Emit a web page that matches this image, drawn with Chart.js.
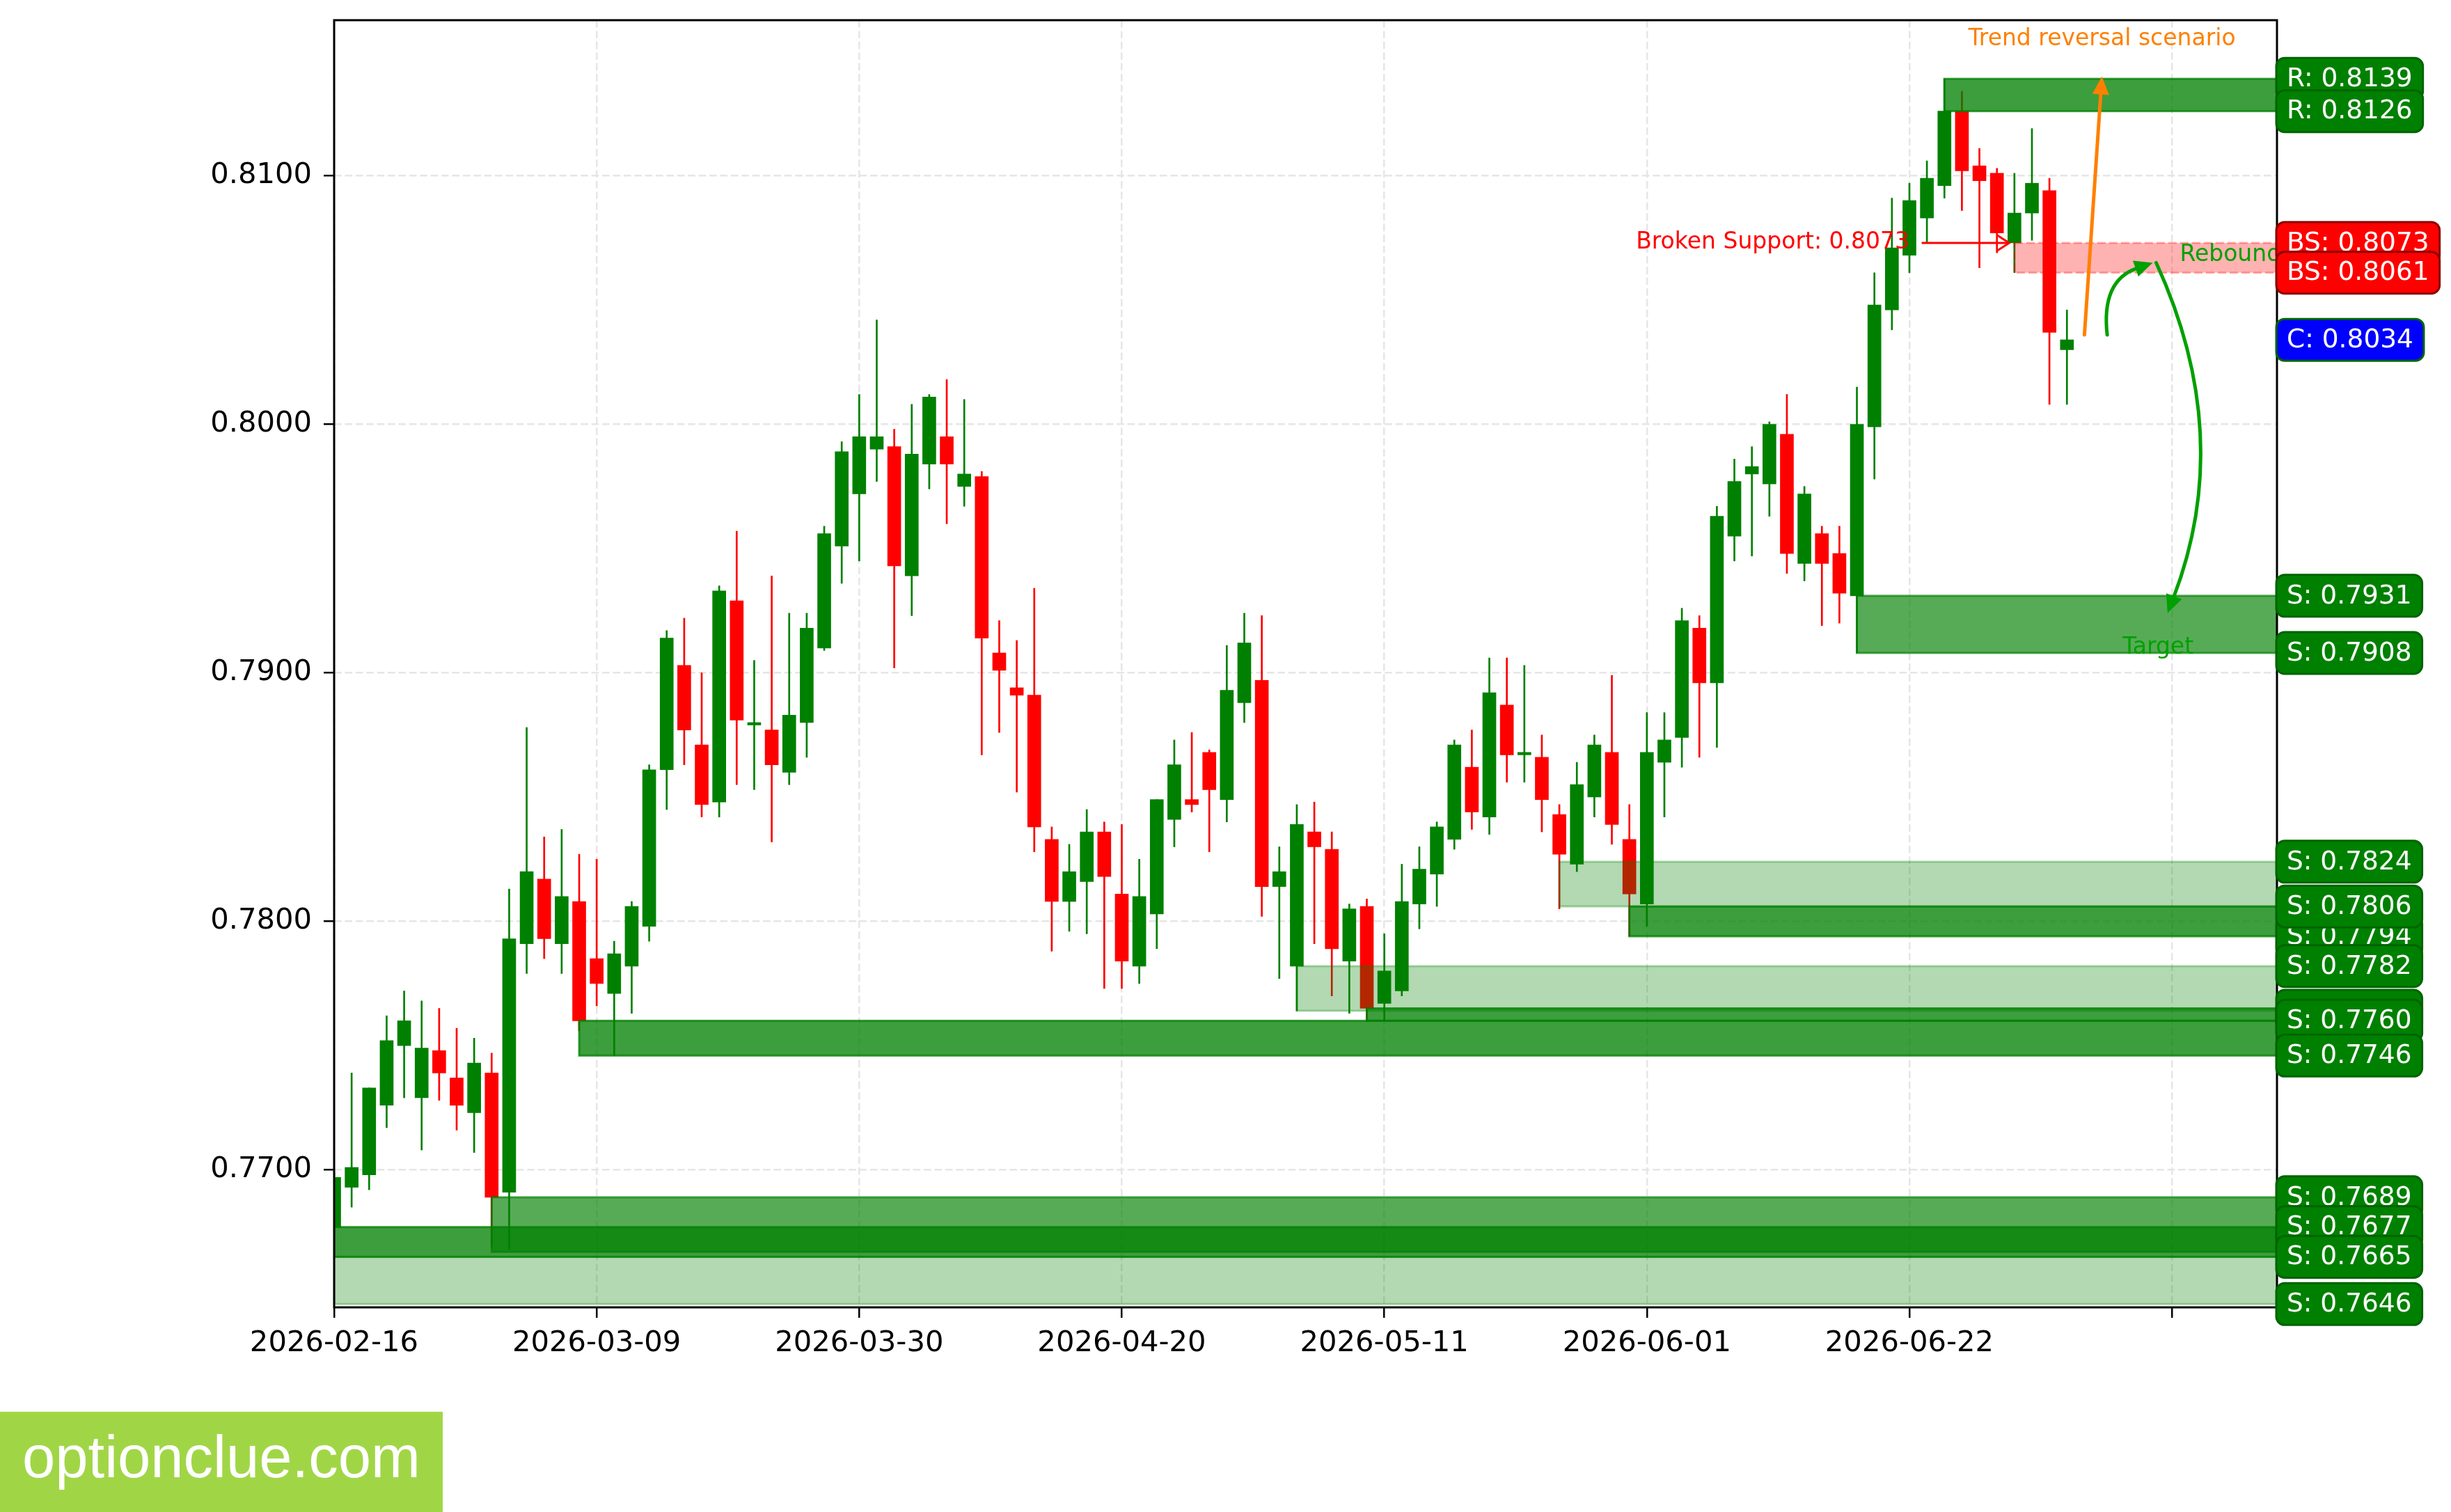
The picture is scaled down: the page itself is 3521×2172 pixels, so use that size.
<!DOCTYPE html>
<html>
<head>
<meta charset="utf-8">
<script src="https://cdn.jsdelivr.net/npm/chart.js@4.4.1/dist/chart.umd.min.js"></script>
<style>
html,body{margin:0;padding:0;background:#fff;}
#c{display:block;}
</style>
</head>
<body>
<canvas id="c" width="3521" height="2172"></canvas>
<script>
// ---------------- DATA ----------------
const dates = [
'2026-02-16','2026-02-17','2026-02-18','2026-02-19','2026-02-20',
'2026-02-23','2026-02-24','2026-02-25','2026-02-26','2026-02-27',
'2026-03-02','2026-03-03','2026-03-04','2026-03-05','2026-03-06',
'2026-03-09','2026-03-10','2026-03-11','2026-03-12','2026-03-13',
'2026-03-16','2026-03-17','2026-03-18','2026-03-19','2026-03-20',
'2026-03-23','2026-03-24','2026-03-25','2026-03-26','2026-03-27',
'2026-03-30','2026-03-31','2026-04-01','2026-04-02','2026-04-03',
'2026-04-06','2026-04-07','2026-04-08','2026-04-09','2026-04-10',
'2026-04-13','2026-04-14','2026-04-15','2026-04-16','2026-04-17',
'2026-04-20','2026-04-21','2026-04-22','2026-04-23','2026-04-24',
'2026-04-27','2026-04-28','2026-04-29','2026-04-30','2026-05-01',
'2026-05-04','2026-05-05','2026-05-06','2026-05-07','2026-05-08',
'2026-05-11','2026-05-12','2026-05-13','2026-05-14','2026-05-15',
'2026-05-18','2026-05-19','2026-05-20','2026-05-21','2026-05-22',
'2026-05-25','2026-05-26','2026-05-27','2026-05-28','2026-05-29',
'2026-06-01','2026-06-02','2026-06-03','2026-06-04','2026-06-05',
'2026-06-08','2026-06-09','2026-06-10','2026-06-11','2026-06-12',
'2026-06-15','2026-06-16','2026-06-17','2026-06-18','2026-06-19',
'2026-06-22','2026-06-23','2026-06-24','2026-06-25','2026-06-26',
'2026-06-29','2026-06-30','2026-07-01','2026-07-02','2026-07-03'];

const openP = [
0.7677,0.7693,0.7698,0.7726,0.7750,0.7729,0.7748,0.7737,0.7723,0.7739,
0.7691,0.7791,0.7817,0.7791,0.7808,0.7785,0.7771,0.7782,0.7798,0.7861,
0.7903,0.7871,0.7848,0.7929,0.7879,0.7877,0.7860,0.7880,0.7910,0.7951,
0.7972,0.7990,0.7991,0.7939,0.7984,0.7995,0.7975,0.7979,0.7908,0.7894,
0.7891,0.7833,0.7808,0.7816,0.7836,0.7811,0.7782,0.7803,0.7841,0.7849,
0.7868,0.7849,0.7888,0.7897,0.7814,0.7782,0.7836,0.7829,0.7784,0.7806,
0.7767,0.7772,0.7807,0.7819,0.7833,0.7862,0.7842,0.7887,0.7867,0.7866,
0.7843,0.7823,0.7850,0.7868,0.7833,0.7807,0.7864,0.7874,0.7918,0.7896,
0.7955,0.7980,0.7976,0.7996,0.7944,0.7956,0.7948,0.7931,0.7999,0.8046,
0.8068,0.8083,0.8096,0.8126,0.8104,0.8101,0.8073,0.8085,0.8094,0.8030];

const highP = [
0.7699,0.7739,0.7733,0.7762,0.7772,0.7768,0.7765,0.7757,0.7753,0.7747,
0.7813,0.7878,0.7834,0.7837,0.7827,0.7825,0.7792,0.7808,0.7863,0.7917,
0.7922,0.7900,0.7935,0.7957,0.7905,0.7939,0.7924,0.7924,0.7959,0.7993,
0.8012,0.8042,0.7998,0.8008,0.8012,0.8018,0.8010,0.7981,0.7921,0.7913,
0.7934,0.7838,0.7831,0.7845,0.7840,0.7839,0.7825,0.7849,0.7873,0.7876,
0.7869,0.7911,0.7924,0.7923,0.7830,0.7847,0.7848,0.7836,0.7807,0.7809,
0.7795,0.7823,0.7830,0.7840,0.7873,0.7877,0.7906,0.7906,0.7903,0.7875,
0.7847,0.7864,0.7875,0.7899,0.7847,0.7884,0.7884,0.7926,0.7923,0.7967,
0.7986,0.7991,0.8001,0.8012,0.7975,0.7959,0.7959,0.8015,0.8061,0.8091,
0.8097,0.8106,0.8139,0.8134,0.8111,0.8103,0.8101,0.8119,0.8099,0.8046];

const lowP = [
0.7665,0.7685,0.7692,0.7717,0.7729,0.7708,0.7728,0.7716,0.7707,0.7669,
0.7668,0.7779,0.7785,0.7779,0.7756,0.7766,0.7746,0.7763,0.7792,0.7845,
0.7863,0.7842,0.7842,0.7855,0.7853,0.7832,0.7855,0.7866,0.7909,0.7936,
0.7945,0.7977,0.7902,0.7923,0.7974,0.7960,0.7967,0.7867,0.7876,0.7852,
0.7828,0.7788,0.7796,0.7795,0.7773,0.7773,0.7775,0.7789,0.7830,0.7844,
0.7828,0.7840,0.7880,0.7802,0.7777,0.7764,0.7791,0.7770,0.7763,0.7760,
0.7760,0.7770,0.7797,0.7806,0.7829,0.7837,0.7835,0.7856,0.7856,0.7836,
0.7805,0.7820,0.7842,0.7831,0.7794,0.7798,0.7842,0.7862,0.7866,0.7870,
0.7945,0.7947,0.7963,0.7940,0.7937,0.7919,0.7920,0.7908,0.7978,0.8038,
0.8061,0.8073,0.8091,0.8086,0.8063,0.8069,0.8061,0.8074,0.8008,0.8008];

const closeP = [
0.7697,0.7701,0.7733,0.7752,0.7760,0.7749,0.7739,0.7726,0.7743,0.7689,
0.7793,0.7820,0.7793,0.7810,0.7760,0.7775,0.7787,0.7806,0.7861,0.7914,
0.7877,0.7847,0.7933,0.7881,0.7880,0.7863,0.7883,0.7918,0.7956,0.7989,
0.7995,0.7995,0.7943,0.7988,0.8011,0.7984,0.7980,0.7914,0.7901,0.7891,
0.7838,0.7808,0.7820,0.7836,0.7818,0.7784,0.7810,0.7849,0.7863,0.7847,
0.7853,0.7893,0.7912,0.7814,0.7820,0.7839,0.7830,0.7789,0.7805,0.7765,
0.7780,0.7808,0.7821,0.7838,0.7871,0.7844,0.7892,0.7867,0.7868,0.7849,
0.7827,0.7855,0.7871,0.7839,0.7811,0.7868,0.7873,0.7921,0.7896,0.7963,
0.7977,0.7983,0.8000,0.7948,0.7972,0.7944,0.7932,0.8000,0.8048,0.8071,
0.8090,0.8099,0.8126,0.8102,0.8098,0.8077,0.8085,0.8097,0.8037,0.8034];

const xTickIdx = [0, 15, 30, 45, 60, 75, 90, 105];
const xTickLabels = ['2026-02-16','2026-03-09','2026-03-30','2026-04-20','2026-05-11','2026-06-01','2026-06-22',''];
const yTicks = [0.7700, 0.7800, 0.7900, 0.8000, 0.8100];

// support / resistance zones (price range + first candle index)
const zoneLow   = [0.7646, 0.7665, 0.7667, 0.7746, 0.7764, 0.7760, 0.7806, 0.7794, 0.7908, 0.8126, 0.8061];
const zoneHigh  = [0.7665, 0.7677, 0.7689, 0.7760, 0.7782, 0.7765, 0.7824, 0.7806, 0.7931, 0.8139, 0.8073];
const zoneStart = [0, 0, 9, 14, 55, 59, 70, 74, 87, 92, 96];
const zoneKind  = ['light','dark','medium','dark','light','dark','light','dark','medium','dark','broken'];

// level labels on the right (in drawing order)
const levelText  = ['R: 0.8139','R: 0.8126','BS: 0.8073','BS: 0.8061','C: 0.8034','S: 0.7931','S: 0.7908',
                    'S: 0.7794','S: 0.7824','S: 0.7806','S: 0.7782','S: 0.7764','S: 0.7760','S: 0.7746',
                    'S: 0.7689','S: 0.7677','S: 0.7665','S: 0.7646'];
const levelPrice = [0.8139,0.8126,0.8073,0.8061,0.8034,0.7931,0.7908,
                    0.7794,0.7824,0.7806,0.7782,0.7764,0.7760,0.7746,
                    0.7689,0.7677,0.7665,0.7646];
const levelKind  = ['R','R','BS','BS','C','S','S','S','S','S','S','S','S','S','S','S','S','S'];

// ---------------- STYLES ----------------
const UP = '#008000', DN = '#ff0000';
const ORANGE = '#ff8000', LGREEN = '#00a000';
const zoneStyle = {
  light:  {fill:'rgba(0,128,0,0.30)', edge:'rgba(0,128,0,0.30)'},
  medium: {fill:'rgba(0,128,0,0.66)', edge:'rgba(0,128,0,0.66)'},
  dark:   {fill:'rgba(0,128,0,0.76)', edge:'rgba(0,128,0,0.76)'},
  broken: {fill:'rgba(255,0,0,0.30)', edge:'rgba(255,0,0,0.30)', dash:[12,5]}
};
const levelStyle = {
  R:  {fill:'#008000', edge:'#006400'},
  S:  {fill:'#008000', edge:'#006400'},
  BS: {fill:'#ff0000', edge:'#8b0000'},
  C:  {fill:'#0000ff', edge:'#006400'}
};
const annot = {
  texts: [
    {t:'Trend reversal scenario', x:101.0, y:0.8155, align:'center', color:ORANGE},
    {t:'Broken Support: 0.8073', x:90.0, y:0.8073, align:'right', color:'#ff0000'},
    {t:'Rebound', x:105.45, y:0.8068, align:'left', color:LGREEN},
    {t:'Target', x:104.2, y:0.7910, align:'center', color:LGREEN}
  ],
  arrows: [
    {x1:100.0, y1:0.8036, x2:101.0, y2:0.8140, rad:0, color:ORANGE, filled:true},
    {x1:101.3, y1:0.8036, x2:103.9, y2:0.8065, rad:-0.4, color:LGREEN, filled:true},
    {x1:104.1, y1:0.8065, x2:104.75, y2:0.7924, rad:-0.21, color:LGREEN, filled:true},
    {x1:90.7, y1:0.8073, x2:95.7, y2:0.8073, rad:0, color:'#ff0000', filled:false}
  ]
};

function drawArrow(ctx, p1, p2, rad, color, filled) {
  const dx = p2.x - p1.x, dyUp = -(p2.y - p1.y);
  const mx = (p1.x + p2.x) / 2, my = (p1.y + p2.y) / 2;
  const cx = mx + rad * dyUp, cy = my + rad * dx;
  let tx = p2.x - cx, ty = p2.y - cy;
  const L = Math.hypot(tx, ty); tx /= L; ty /= L;
  ctx.save();
  ctx.strokeStyle = color; ctx.fillStyle = color;
  if (filled) {
    const hl = 26, hw = 12;
    const bx = p2.x - tx * hl, by = p2.y - ty * hl;
    ctx.lineWidth = 5; ctx.lineCap = 'round';
    ctx.beginPath(); ctx.moveTo(p1.x, p1.y); ctx.quadraticCurveTo(cx, cy, bx + tx*2, by + ty*2); ctx.stroke();
    ctx.beginPath(); ctx.moveTo(p2.x, p2.y);
    ctx.lineTo(bx - ty * hw, by + tx * hw); ctx.lineTo(bx + ty * hw, by - tx * hw);
    ctx.closePath(); ctx.fill();
  } else {
    const hl = 17, hw = 11;
    const bx = p2.x - tx * hl, by = p2.y - ty * hl;
    ctx.lineWidth = 3; ctx.lineCap = 'butt';
    ctx.beginPath(); ctx.moveTo(p1.x, p1.y); ctx.quadraticCurveTo(cx, cy, p2.x, p2.y); ctx.stroke();
    ctx.beginPath(); ctx.moveTo(bx - ty * hw, by + tx * hw); ctx.lineTo(p2.x, p2.y); ctx.lineTo(bx + ty * hw, by - tx * hw); ctx.stroke();
  }
  ctx.restore();
}

function roundRect(ctx, x, y, w, h, r) {
  ctx.beginPath();
  ctx.moveTo(x + r, y); ctx.lineTo(x + w - r, y); ctx.arcTo(x + w, y, x + w, y + r, r);
  ctx.lineTo(x + w, y + h - r); ctx.arcTo(x + w, y + h, x + w - r, y + h, r);
  ctx.lineTo(x + r, y + h); ctx.arcTo(x, y + h, x, y + h - r, r);
  ctx.lineTo(x, y + r); ctx.arcTo(x, y, x + r, y, r); ctx.closePath();
}

const overlay = {
  id: 'overlay',
  afterDatasetsDraw(chart) {
    const ctx = chart.ctx, a = chart.chartArea, xs = chart.scales.x, ys = chart.scales.y;
    ctx.save();
    ctx.beginPath(); ctx.rect(a.left, a.top, a.right - a.left, a.bottom - a.top); ctx.clip();
    // zones
    for (let k = 0; k < zoneLow.length; k++) {
      const st = zoneStyle[zoneKind[k]];
      const x0 = xs.getPixelForValue(zoneStart[k]), x1 = xs.getPixelForValue(xs.max);
      const y0 = ys.getPixelForValue(zoneHigh[k]), y1 = ys.getPixelForValue(zoneLow[k]);
      ctx.fillStyle = st.fill; ctx.fillRect(x0, y0, x1 - x0, y1 - y0);
      ctx.strokeStyle = st.edge; ctx.lineWidth = 3; ctx.setLineDash(st.dash || []);
      ctx.strokeRect(x0, y0, x1 - x0, y1 - y0); ctx.setLineDash([]);
    }
    // annotation arrows
    for (const ar of annot.arrows) {
      drawArrow(ctx, {x: xs.getPixelForValue(ar.x1), y: ys.getPixelForValue(ar.y1)},
                     {x: xs.getPixelForValue(ar.x2), y: ys.getPixelForValue(ar.y2)}, ar.rad, ar.color, ar.filled);
    }
    // annotation texts
    ctx.font = '33px "DejaVu Sans"'; ctx.textBaseline = 'middle';
    for (const t of annot.texts) {
      ctx.fillStyle = t.color; ctx.textAlign = t.align;
      ctx.fillText(t.t, xs.getPixelForValue(t.x), ys.getPixelForValue(t.y));
    }
    ctx.restore();
    // spines
    ctx.save(); ctx.strokeStyle = '#000'; ctx.lineWidth = 3;
    ctx.strokeRect(a.left, a.top, a.right - a.left, a.bottom - a.top); ctx.restore();
    // level labels
    ctx.save();
    ctx.font = '37.5px "DejaVu Sans"'; ctx.textBaseline = 'middle'; ctx.textAlign = 'left';
    const tx = a.right + 14;
    for (let k = 0; k < levelText.length; k++) {
      const st = levelStyle[levelKind[k]];
      const yy = ys.getPixelForValue(levelPrice[k]);
      const w = ctx.measureText(levelText[k]).width;
      roundRect(ctx, tx - 15, yy - 30, w + 30, 60, 12);
      ctx.fillStyle = st.fill; ctx.fill();
      ctx.lineWidth = 3; ctx.strokeStyle = st.edge; ctx.stroke();
      ctx.fillStyle = '#fff'; ctx.fillText(levelText[k], tx, yy + 1);
    }
    ctx.restore();
    // watermark
    ctx.save();
    ctx.fillStyle = '#a0d646'; ctx.fillRect(0, 2028, 636, 144);
    ctx.fillStyle = '#fff'; ctx.font = '85px "Liberation Sans"'; ctx.textBaseline = 'alphabetic'; ctx.textAlign = 'left';
    ctx.fillText('optionclue.com', 32, 2122);
    ctx.restore();
  }
};

const candleColors = closeP.map((c, i) => c >= openP[i] ? UP : DN);
const gridOpts = {color:'#e6e6e6', lineWidth:2.5, tickColor:'#000', tickLength:15, tickWidth:2.5, offset:false};

new Chart(document.getElementById('c').getContext('2d'), {
  type: 'bar',
  data: {
    datasets: [
      {label:'body', data: closeP.map((c, i) => ({x: i, y: [openP[i], c]})),
       backgroundColor: candleColors, barThickness: 19, grouped: false, order: 0, borderWidth: 0},
      {label:'wick', data: highP.map((h, i) => ({x: i, y: [lowP[i], h]})),
       backgroundColor: candleColors, barThickness: 2, grouped: false, order: 1, borderWidth: 0}
    ]
  },
  options: {
    responsive: false, devicePixelRatio: 1, animation: false, events: [],
    layout: {padding: {left: 0, right: 250, top: 29, bottom: 0}},
    plugins: {legend: {display: false}, tooltip: {enabled: false}},
    scales: {
      x: {
        type: 'linear', min: 0, max: 111, offset: false,
        afterBuildTicks: s => { s.ticks = xTickIdx.map(v => ({value: v})); },
        afterFit: s => { s.height = 294; s.paddingLeft = 0; s.paddingRight = 0; },
        ticks: {callback: v => { const k = xTickIdx.indexOf(v); return k >= 0 ? xTickLabels[k] : ''; },
                font: {family: 'DejaVu Sans', size: 41.7}, color: '#000', padding: 12, maxRotation: 0, autoSkip: false},
        grid: gridOpts,
        border: {display: false, dash: [10.7, 4.7]}
      },
      y: {
        type: 'linear', min: 0.76447, max: 0.81626,
        afterBuildTicks: s => { s.ticks = yTicks.map(v => ({value: v})); },
        afterFit: s => { s.width = 480; s.paddingTop = 0; s.paddingBottom = 0; },
        ticks: {callback: v => Number(v).toFixed(4), font: {family: 'DejaVu Sans', size: 41.7}, color: '#000', padding: 17},
        grid: gridOpts,
        border: {display: false, dash: [10.7, 4.7]}
      }
    }
  },
  plugins: [overlay]
});
</script>
</body>
</html>
